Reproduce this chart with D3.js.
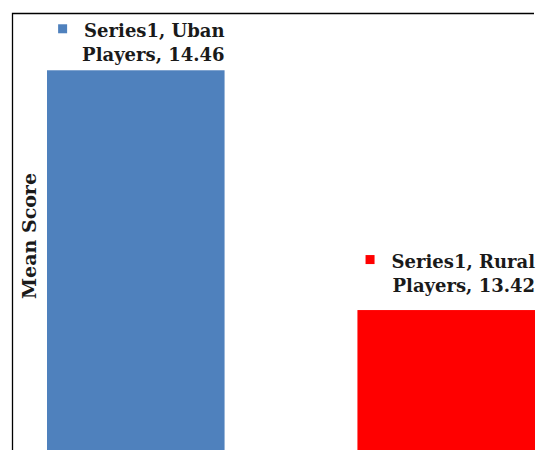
<!DOCTYPE html>
<html>
<head>
<meta charset="utf-8">
<script src="https://cdn.jsdelivr.net/npm/d3@7"></script>
<style>
  body { margin: 0; background: #fff; }
  text { font-family: "DejaVu Serif", serif; font-weight: bold; fill: #1a1a1a; }
</style>
</head>
<body>
<svg id="chart"></svg>
<script>
const WIDTH = 537;
const HEIGHT = 450;

// data
const categories = ['Uban Players', 'Rural Players'];
const values = [14.46, 13.42];
const seriesName = 'Series1';
const colors = ['#4F81BD', '#FF0000'];

// gap between bar top and the label's last baseline
const labelGap = [9, 18];

const svg = d3.select('#chart')
  .attr('width', WIDTH)
  .attr('height', HEIGHT);

// frame (bottom/right cropped away in the original)
svg.append('path')
  .attr('d', 'M12.5,450 L12.5,13.5 L534,13.5')
  .attr('fill', 'none')
  .attr('stroke', '#000')
  .attr('stroke-width', 1.3);

const x = d3.scaleBand()
  .domain(categories)
  .range([47, 535])
  .paddingInner(0.428)
  .paddingOuter(0);

// axis starts far below the visible area
const y = d3.scaleLinear()
  .domain([12.8, 14.6])
  .range([453, 38]);

const rows = categories.map((c, i) => ({ cat: c, value: values[i], color: colors[i], gap: labelGap[i] }));

svg.selectAll('.bar')
  .data(rows)
  .enter().append('rect')
  .attr('class', 'bar')
  .attr('x', d => x(d.cat))
  .attr('y', d => y(d.value))
  .attr('width', x.bandwidth())
  .attr('height', d => HEIGHT - y(d.value) + 10)
  .attr('fill', d => d.color);

// data labels with legend key
const label = svg.selectAll('.label')
  .data(rows)
  .enter().append('g')
  .attr('class', 'label');

label.append('text')
  .attr('class', 'l1')
  .attr('x', d => x(d.cat) + x.bandwidth())
  .attr('y', d => y(d.value) - d.gap - 24)
  .attr('text-anchor', 'end')
  .style('font-size', '18px')
  .text(d => `${seriesName}, ${d.cat.split(' ')[0]}`);

label.append('text')
  .attr('x', d => x(d.cat) + x.bandwidth())
  .attr('y', d => y(d.value) - d.gap)
  .attr('text-anchor', 'end')
  .style('font-size', '18px')
  .text(d => `${d.cat.split(' ')[1]}, ${d3.format('.2f')(d.value)}`);

label.each(function(d) {
  const g = d3.select(this);
  const w = g.select('.l1').node().getComputedTextLength();
  const right = x(d.cat) + x.bandwidth();
  g.append('rect')
    .attr('x', right - w - 26)
    .attr('y', y(d.value) - d.gap - 37)
    .attr('width', 9)
    .attr('height', 9)
    .attr('fill', d.color);
});

// y axis title
svg.append('text')
  .attr('transform', 'translate(36,236) rotate(-90)')
  .attr('text-anchor', 'middle')
  .style('font-size', '19px')
  .text('Mean Score');
</script>
</body>
</html>
